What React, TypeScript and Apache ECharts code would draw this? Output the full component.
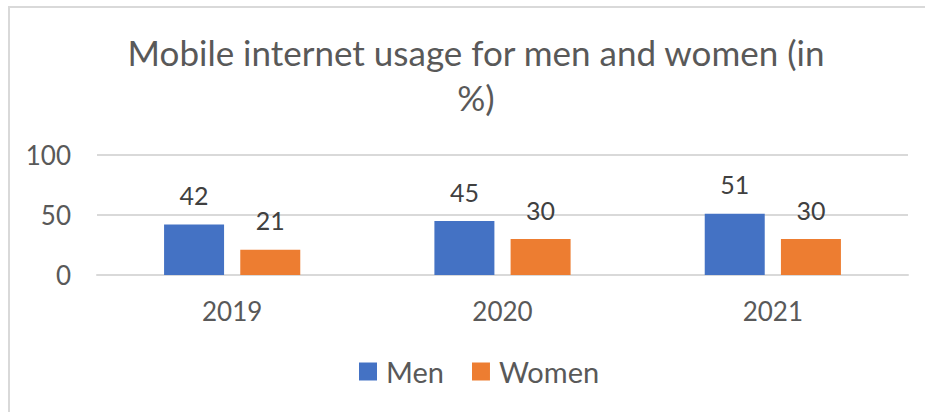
import React, { useEffect, useRef } from "react";
import * as echarts from "echarts";

const categories = ["2019", "2020", "2021"];
const menValues = [42, 45, 51];
const womenValues = [21, 30, 30];
const yTicks = [0, 50, 100];

const FONT = "Lato, 'Open Sans', sans-serif";

export default function App() {
  const ref = useRef<HTMLDivElement>(null);
  useEffect(() => {
    if (!ref.current) return;
    const chart = echarts.init(ref.current, undefined, { renderer: "svg" });
    chart.setOption({
      animation: false,
      backgroundColor: "#ffffff",
      textStyle: { fontFamily: FONT },
      title: {
        text: "Mobile internet usage for men and women (in\n%)",
        left: 471,
        top: 24,
        textAlign: "center",
        textStyle: { fontFamily: FONT, fontSize: 35, fontWeight: "normal", color: "#595959", lineHeight: 45 },
      },
      graphic: [
        {
          type: "rect",
          shape: { x: 9, y: 7, width: 930, height: 420 },
          style: { fill: "none", stroke: "#d9d9d9", lineWidth: 2 },
          silent: true,
        },
      ],
      legend: {
        data: ["Men", "Women"],
        bottom: 21,
        left: 354,
        icon: "rect",
        itemWidth: 18,
        itemHeight: 18,
        itemGap: 28,
        textStyle: { fontFamily: FONT, fontSize: 29, color: "#595959", padding: [0, 0, 0, 4] },
      },
      grid: { left: 97, right: 17, top: 155, bottom: 137 },
      xAxis: {
        type: "category",
        data: categories,
        axisLine: { lineStyle: { color: "#d9d9d9", width: 2 } },
        axisTick: { show: false },
        axisLabel: { fontFamily: FONT, fontSize: 26, color: "#595959", margin: 23 },
      },
      yAxis: {
        type: "value",
        min: yTicks[0],
        max: yTicks[yTicks.length - 1],
        interval: 50,
        axisLine: { show: false },
        axisTick: { show: false },
        splitLine: { lineStyle: { color: "#d9d9d9", width: 2 } },
        axisLabel: { fontFamily: FONT, fontSize: 26, color: "#595959", margin: 26 },
      },
      series: [
        {
          name: "Men",
          type: "bar",
          data: menValues,
          barWidth: 60,
          barGap: "27%",
          itemStyle: { color: "#4472c4" },
          label: { show: true, position: "top", distance: 17, fontFamily: FONT, fontSize: 25, color: "#404040" },
        },
        {
          name: "Women",
          type: "bar",
          data: womenValues,
          barWidth: 60,
          itemStyle: { color: "#ed7d31" },
          label: { show: true, position: "top", distance: 17, fontFamily: FONT, fontSize: 25, color: "#404040" },
        },
      ],
    });
    return () => chart.dispose();
  }, []);
  return (
    <div
      ref={ref}
      style={{ position: "absolute", left: 0, top: 0, width: 925, height: 412 }}
    />
  );
}
